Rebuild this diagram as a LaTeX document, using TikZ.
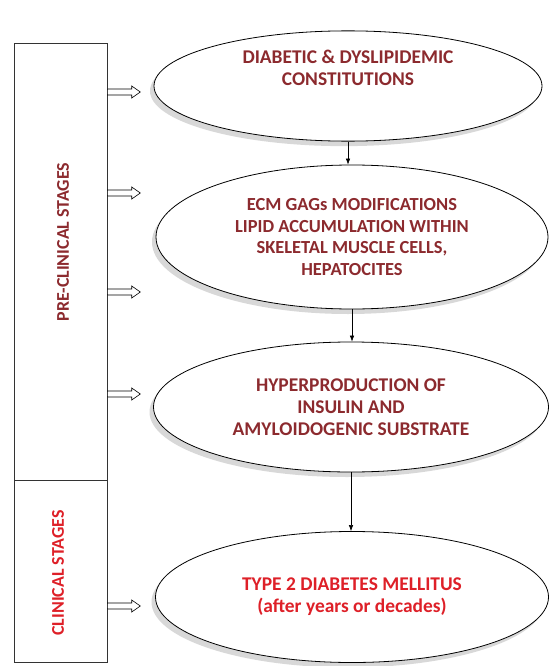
\documentclass[tikz,border=0pt]{standalone}
\usepackage{fontspec}
\setmainfont{Carlito}
\usetikzlibrary{shapes.geometric,shapes.arrows,shadows,arrows.meta}
\definecolor{darkred}{RGB}{140,42,46}
\definecolor{brightred}{RGB}{222,32,40}
\tikzset{
  stage/.style={ellipse, draw, line width=0.8bp, fill=white, align=center,
    drop shadow={shadow xshift=-4bp, shadow yshift=-5bp, fill=black!30},
    font=\bfseries\fontsize{19.5}{22}\selectfont, text=darkred},
  phase/.style={rectangle, draw=black!80, line width=0.8bp, minimum width=93bp},
  phaselabel/.style={rotate=90, font=\bfseries\fontsize{18}{20}\selectfont},
  openarrow/.style={single arrow, draw, line width=0.6bp, fill=white,
    minimum height=33bp, minimum width=11bp, inner sep=2.7bp,
    single arrow head extend=3bp, single arrow tip angle=70},
  flow/.style={-{Latex[length=6bp,width=4.5bp]}, line width=0.6bp}
}
\begin{document}
\begin{tikzpicture}[x=1bp, y=-1bp]
    \useasboundingbox (0,0) rectangle (550,666);

    % left column: stages
    \node[phase, minimum height=437bp, anchor=north west] (pre) at (14,43) {};
    \node[phase, minimum height=182bp, anchor=north west] (clin) at (14,480) {};
    \node[phaselabel, text=darkred] (prelabel) at (63,242) {PRE-CLINICAL STAGES};
    \node[phaselabel, text=brightred] (clinlabel) at (58,573) {CLINICAL STAGES};

    % open arrows from the stage column
    \foreach \y [count=\i] in {92,193,292,394,606}
        \node[openarrow, anchor=west] (in\i) at (107,\y) {};

    % the chain of events
    \node[stage, minimum width=388bp, minimum height=92bp, text depth=36bp] (e1) at (348,86)
        {DIABETIC \& DYSLIPIDEMIC\\CONSTITUTIONS};
    \node[stage, minimum width=392bp, minimum height=144bp,
          font=\bfseries\fontsize{18.5}{21.5}\selectfont] (e2) at (352,237)
        {ECM GAGs MODIFICATIONS\\LIPID ACCUMULATION WITHIN\\SKELETAL MUSCLE CELLS,\\HEPATOCITES};
    \node[stage, minimum width=395bp, minimum height=130bp] (e3) at (351,407)
        {HYPERPRODUCTION OF\\INSULIN AND\\AMYLOIDOGENIC SUBSTRATE};
    \node[stage, minimum width=393bp, minimum height=131bp, text=brightred] (e4) at (352,597)
        {TYPE 2 DIABETES MELLITUS\\(after years or decades)};

    \draw[flow] (e1.south) -- (e1.south |- e2.north);
    \draw[flow] (e2.south) -- (e2.south |- e3.north);
    \draw[flow] (e3.south) -- (e3.south |- e4.north);
\end{tikzpicture}
\end{document}
